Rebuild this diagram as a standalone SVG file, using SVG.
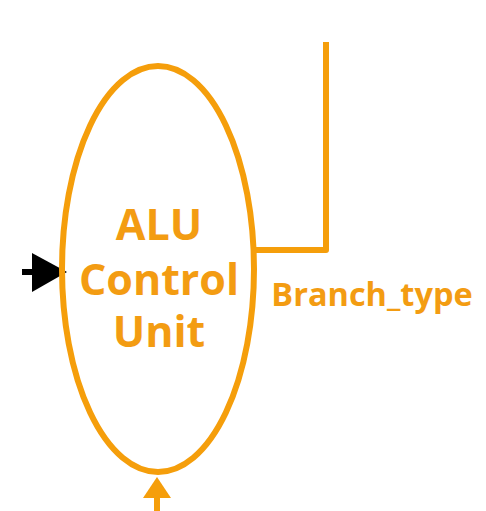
<svg xmlns="http://www.w3.org/2000/svg" width="486" height="511" viewBox="0 0 486 511">
<style>
.o{stroke:#F59E0B;stroke-width:6;fill:none}
.t{font-family:"Open Sans","Liberation Sans",sans-serif;font-weight:bold;fill:#F39C12;text-anchor:middle}
</style>
<rect width="486" height="511" fill="#fff"/>
<g id="connectors">
<path class="o" d="M254 250H326V42" stroke-linejoin="round"/>
<line x1="22" y1="272" x2="40" y2="272" stroke="#000" stroke-width="6"/>
<polygon points="32,253 67,272 32,292" fill="#000"/>
<line class="o" x1="157" y1="495" x2="157" y2="511"/>
<polygon points="143,498 157,477 171,498" fill="#F59E0B"/>
</g>
<g id="alu">
<ellipse class="o" cx="158" cy="269" rx="96" ry="203"/>
<text class="t" x="159" y="240" font-size="43">ALU</text>
<text class="t" x="159" y="295" font-size="43">Control</text>
<text class="t" x="159" y="347" font-size="43">Unit</text>
</g>
<text class="t" x="372" y="306" font-size="32.5">Branch_type</text>
</svg>
